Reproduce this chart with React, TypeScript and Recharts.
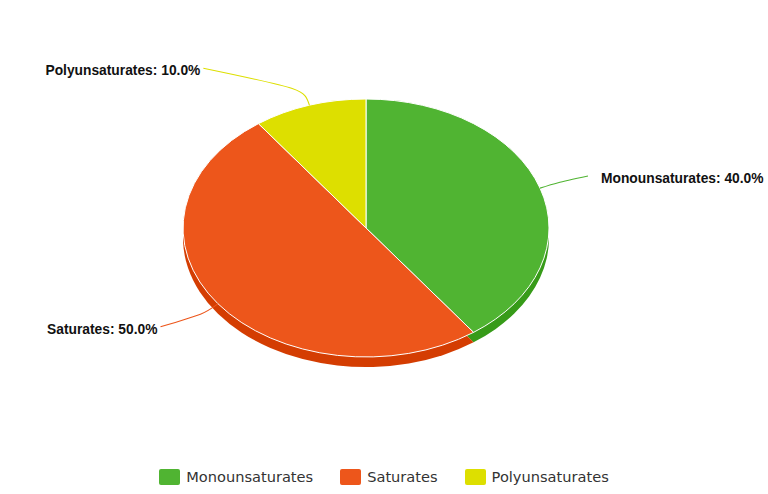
import { PieChart, Pie, Cell, Legend } from 'recharts';

const names = ['Monounsaturates', 'Saturates', 'Polyunsaturates'];
const shares = [40, 50, 10];
const topColors = ['#50B432', '#ED561B', '#DDDF00'];
const sideColors = ['#379b19', '#d43d02', '#c4c600'];

const data = names.map((name, i) => ({ name, value: shares[i] }));

const W = 768;
const H = 494;
const CX = 366;
const CY = 228;
const R = 183;
const TILT = 129 / 183; // vertical squash of the disc
const DEPTH = 10; // thickness of the disc edge

const LABEL_FONT = '"Liberation Sans", Arial, sans-serif';
const LEGEND_FONT = '"DejaVu Sans", sans-serif';
const RAD = Math.PI / 180;

const css = `
body { margin: 0; }
.pie-top .recharts-sector, .pie-side .recharts-sector {
  transform-box: view-box;
  transform-origin: 0px ${CY}px;
  transform: scaleY(${TILT});
}
.pie-top .recharts-sector { vector-effect: non-scaling-stroke; }
`;

const renderLabel = (props: any) => {
  const { cx, cy, midAngle, outerRadius, index } = props;
  const cos = Math.cos(midAngle * RAD);
  const sin = Math.sin(midAngle * RAD);
  const color = topColors[index];
  // point on the rim of the squashed disc
  const ex = cx + outerRadius * cos;
  const ey = cy - outerRadius * TILT * sin;
  const bx = ex + 17 * cos;
  const by = ey - 17 * sin;
  const side = cos >= 0 ? 1 : -1;
  const ly = cy - (outerRadius * TILT + 39) * sin;
  const lr = outerRadius + 45;
  const lx = cx + side * Math.sqrt(Math.max(lr * lr - (ly - cy) * (ly - cy), 0));
  const d = data[index];
  return (
    <g key={`label-${index}`}>
      <path d={`M${lx},${ly} C${bx},${by} ${bx},${by} ${ex},${ey}`} stroke={color} strokeWidth={1.1} fill="none" />
      <text
        x={lx + (side > 0 ? 13 : -3)}
        y={ly + 7}
        textAnchor={side > 0 ? 'start' : 'end'}
        fontFamily={LABEL_FONT}
        fontSize={13.8}
        fontWeight="bold"
        fill="#111"
      >
        {`${d.name}: ${d.value.toFixed(1)}%`}
      </text>
    </g>
  );
};

const renderLegend = () => (
  <div
    style={{
      display: 'flex',
      justifyContent: 'center',
      alignItems: 'center',
      gap: 27,
      fontFamily: LEGEND_FONT,
      fontSize: 14.6,
      color: '#333',
    }}
  >
    {names.map((n, i) => (
      <div key={n} style={{ display: 'flex', alignItems: 'center', gap: 6 }}>
        <span style={{ display: 'inline-block', width: 21, height: 16, borderRadius: 2, background: topColors[i] }} />
        <span>{n}</span>
      </div>
    ))}
  </div>
);

export default function App() {
  return (
    <div style={{ width: W, height: H, background: '#fff' }}>
      <style>{css}</style>
      <PieChart width={W} height={H} margin={{ top: 0, right: 0, bottom: 0, left: 0 }}>
        {/* edge of the disc, drawn underneath and shifted down */}
        <Pie
          className="pie-side"
          data={data}
          dataKey="value"
          nameKey="name"
          cx={CX}
          cy={CY + DEPTH / TILT}
          outerRadius={R}
          startAngle={90}
          endAngle={-270}
          stroke="none"
          legendType="none"
          isAnimationActive={false}
        >
          {data.map((d, i) => (
            <Cell key={`side-${d.name}`} fill={sideColors[i]} />
          ))}
        </Pie>
        <Pie
          className="pie-top"
          data={data}
          dataKey="value"
          nameKey="name"
          cx={CX}
          cy={CY}
          outerRadius={R}
          startAngle={90}
          endAngle={-270}
          stroke="#fff"
          strokeWidth={1}
          label={renderLabel}
          labelLine={false}
          isAnimationActive={false}
        >
          {data.map((d, i) => (
            <Cell key={`top-${d.name}`} fill={topColors[i]} />
          ))}
        </Pie>
        <Legend
          verticalAlign="bottom"
          content={renderLegend}
          wrapperStyle={{ left: 0, bottom: 9, width: W }}
        />
      </PieChart>
    </div>
  );
}
